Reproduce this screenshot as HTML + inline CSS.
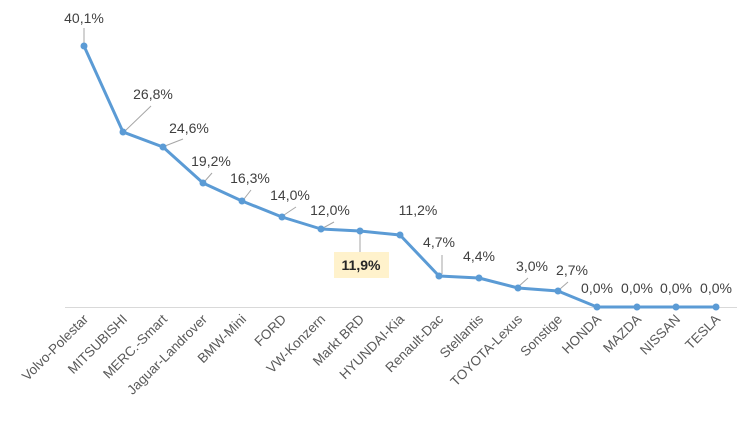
<!DOCTYPE html>
<html><head><meta charset="utf-8"><style>
html,body{margin:0;padding:0;background:#fff;}
svg{display:block;font-family:"Liberation Sans",sans-serif;}
</style></head><body>
<svg width="750" height="421" viewBox="0 0 750 421">
<line x1="65" y1="307.5" x2="737" y2="307.5" stroke="#d9d9d9" stroke-width="1"/>
<g stroke="#a6a6a6" stroke-width="1" fill="none">
<line x1="84" y1="44" x2="84" y2="28"/>
<line x1="125" y1="131" x2="151" y2="106"/>
<line x1="165" y1="146" x2="183" y2="139"/>
<line x1="205" y1="181" x2="212" y2="173"/>
<line x1="244" y1="199" x2="251" y2="190"/>
<line x1="284" y1="215" x2="296" y2="207"/>
<line x1="323" y1="228" x2="334" y2="222"/>
<line x1="360" y1="233" x2="360" y2="252"/>
<line x1="442" y1="274" x2="442" y2="255"/>
<line x1="518" y1="287" x2="528" y2="278"/>
<line x1="560" y1="289" x2="568" y2="282"/>
</g>
<polyline fill="none" stroke="#5b9bd5" stroke-width="3" stroke-linejoin="round" points="84,46 123,132 163,147 203,183 242,201 282,217 321,229 360,231 400,235 439,276 479,278 518,288 558,291 597,307 637,307 676,307 716,307"/>
<g fill="#5b9bd5">
<circle cx="84" cy="46" r="3.5"/><circle cx="123" cy="132" r="3.5"/><circle cx="163" cy="147" r="3.5"/><circle cx="203" cy="183" r="3.5"/><circle cx="242" cy="201" r="3.5"/><circle cx="282" cy="217" r="3.5"/><circle cx="321" cy="229" r="3.5"/><circle cx="360" cy="231" r="3.5"/><circle cx="400" cy="235" r="3.5"/><circle cx="439" cy="276" r="3.5"/><circle cx="479" cy="278" r="3.5"/><circle cx="518" cy="288" r="3.5"/><circle cx="558" cy="291" r="3.5"/><circle cx="597" cy="307" r="3.5"/><circle cx="637" cy="307" r="3.5"/><circle cx="676" cy="307" r="3.5"/><circle cx="716" cy="307" r="3.5"/>
</g>
<rect x="334" y="252" width="55" height="26" fill="#fff2cc"/>
<g font-size="14" fill="#404040" text-anchor="middle">
<text x="84" y="23">40,1%</text>
<text x="153" y="99">26,8%</text>
<text x="189" y="133">24,6%</text>
<text x="211" y="166">19,2%</text>
<text x="250" y="183">16,3%</text>
<text x="290" y="200">14,0%</text>
<text x="330" y="215">12,0%</text>
<text x="361" y="270" font-weight="bold" fill="#262626">11,9%</text>
<text x="418" y="215">11,2%</text>
<text x="439" y="247">4,7%</text>
<text x="479" y="261">4,4%</text>
<text x="532" y="271">3,0%</text>
<text x="572" y="275">2,7%</text>
<text x="597" y="293">0,0%</text>
<text x="637" y="293">0,0%</text>
<text x="676" y="293">0,0%</text>
<text x="716" y="293">0,0%</text>
</g>
<g font-size="13.5" fill="#595959" text-anchor="end">
<text transform="translate(89,320) rotate(-45)">Volvo-Polestar</text>
<text transform="translate(128,320) rotate(-45)">MITSUBISHI</text>
<text transform="translate(168,320) rotate(-45)">MERC.-Smart</text>
<text transform="translate(208,320) rotate(-45)">Jaguar-Landrover</text>
<text transform="translate(247,320) rotate(-45)">BMW-Mini</text>
<text transform="translate(287,320) rotate(-45)">FORD</text>
<text transform="translate(326,320) rotate(-45)">VW-Konzern</text>
<text transform="translate(365,320) rotate(-45)">Markt BRD</text>
<text transform="translate(405,320) rotate(-45)">HYUNDAI-Kia</text>
<text transform="translate(444,320) rotate(-45)">Renault-Dac</text>
<text transform="translate(484,320) rotate(-45)">Stellantis</text>
<text transform="translate(523,320) rotate(-45)">TOYOTA-Lexus</text>
<text transform="translate(563,320) rotate(-45)">Sonstige</text>
<text transform="translate(602,320) rotate(-45)">HONDA</text>
<text transform="translate(642,320) rotate(-45)">MAZDA</text>
<text transform="translate(681,320) rotate(-45)">NISSAN</text>
<text transform="translate(721,320) rotate(-45)">TESLA</text>
</g>
</svg>
</body></html>
